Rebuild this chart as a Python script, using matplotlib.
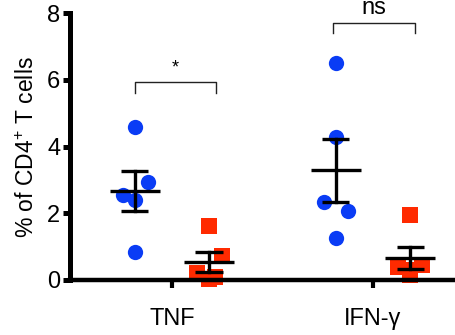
import matplotlib
matplotlib.use("Agg")
import matplotlib.pyplot as plt
import numpy as np

plt.rcParams['font.family'] = ['Liberation Sans', 'DejaVu Sans']
plt.rcParams['mathtext.fontset'] = 'custom'
plt.rcParams['mathtext.rm'] = 'Liberation Sans'
plt.rcParams['mathtext.it'] = 'Liberation Sans'

categories = ["TNF", "IFN-γ"]
blue_tnf = [4.60, 2.95, 2.55, 2.40, 0.85]
blue_tnf_jit = [0.0, 0.065, -0.06, 0.0, 0.0]
red_tnf = [1.62, 0.72, 0.20, 0.10, 0.03]
red_tnf_jit = [0.0, 0.065, -0.06, 0.03, 0.0]
blue_ifn = [6.50, 4.30, 2.35, 2.07, 1.25]
blue_ifn_jit = [0.0, 0.0, -0.06, 0.06, 0.0]
red_ifn = [1.95, 0.45, 0.40, 0.30, 0.15]
red_ifn_jit = [0.0, 0.06, -0.06, 0.0, 0.0]
sig_labels = ["*", "ns"]

blue = "#0A3CF5"
red = "#FF2A00"

fig = plt.figure(figsize=(4.56, 3.35), dpi=100)
ax = fig.add_axes([70/456, 55/335, 1 - 70/456, (280-13.3)/335])

off = 0.185
groups = [
    (0, -off, blue_tnf, blue_tnf_jit, 'o', blue, 11),
    (0, off, red_tnf, red_tnf_jit, 's', red, 12),
    (1, -off, blue_ifn, blue_ifn_jit, 'o', blue, 11),
    (1, off, red_ifn, red_ifn_jit, 's', red, 12),
]
for c, o, vals, jit, m, col, ms in groups:
    x = c + o + np.array(jit)
    ax.plot(x, vals, ls='none', marker=m, color=col, markersize=ms,
            markeredgewidth=0, clip_on=False, zorder=2)
    v = np.array(vals)
    mean = v.mean()
    sem = v.std(ddof=1) / np.sqrt(len(v))
    xc = c + o
    ax.plot([xc - 0.125, xc + 0.125], [mean, mean], color='black', lw=2.4,
            solid_capstyle='butt', zorder=3, clip_on=False)
    ax.plot([xc, xc], [mean - sem, mean + sem], color='black', lw=2.4,
            zorder=3, clip_on=False)
    for yy in (mean - sem, mean + sem):
        ax.plot([xc - 0.068, xc + 0.068], [yy, yy], color='black', lw=2.4,
                solid_capstyle='butt', zorder=3, clip_on=False)

# significance brackets
brackets = [(0, -0.185, 0.22, 5.95, 5.6), (1, -0.2, 0.21, 7.72, 7.4)]
for (c, x0, x1, ytop, yleg), lab in zip(brackets, sig_labels):
    ax.plot([c + x0, c + x0, c + x1, c + x1], [yleg, ytop, ytop, yleg],
            color='#222222', lw=1.0, clip_on=False)
    xm = c + (x0 + x1) / 2
    if lab == "*":
        ax.text(xm, ytop + 0.15, lab, ha='center', va='bottom', fontsize=13, clip_on=False)
    else:
        ax.text(xm, ytop + 0.26, lab, ha='center', va='baseline', fontsize=17, clip_on=False)

ax.set_xlim(-0.507, (456 - 172) / 201)
ax.set_ylim(0, 8)
ax.set_yticks([0, 2, 4, 6, 8])
ax.set_xticks([0, 1])
ax.set_xticklabels(categories)
ax.spines['top'].set_visible(False)
ax.spines['right'].set_visible(False)
ax.spines['left'].set_linewidth(3.6)
ax.spines['bottom'].set_linewidth(3.2)
ax.tick_params(axis='y', length=5, width=3.6, pad=2, labelsize=17)
ax.tick_params(axis='x', length=5.5, width=3, pad=15, labelsize=17)
ax.set_ylabel("% of CD4$^{+}$ T cells", fontsize=16.5, labelpad=6)

fig.savefig("out.png", dpi=100)
